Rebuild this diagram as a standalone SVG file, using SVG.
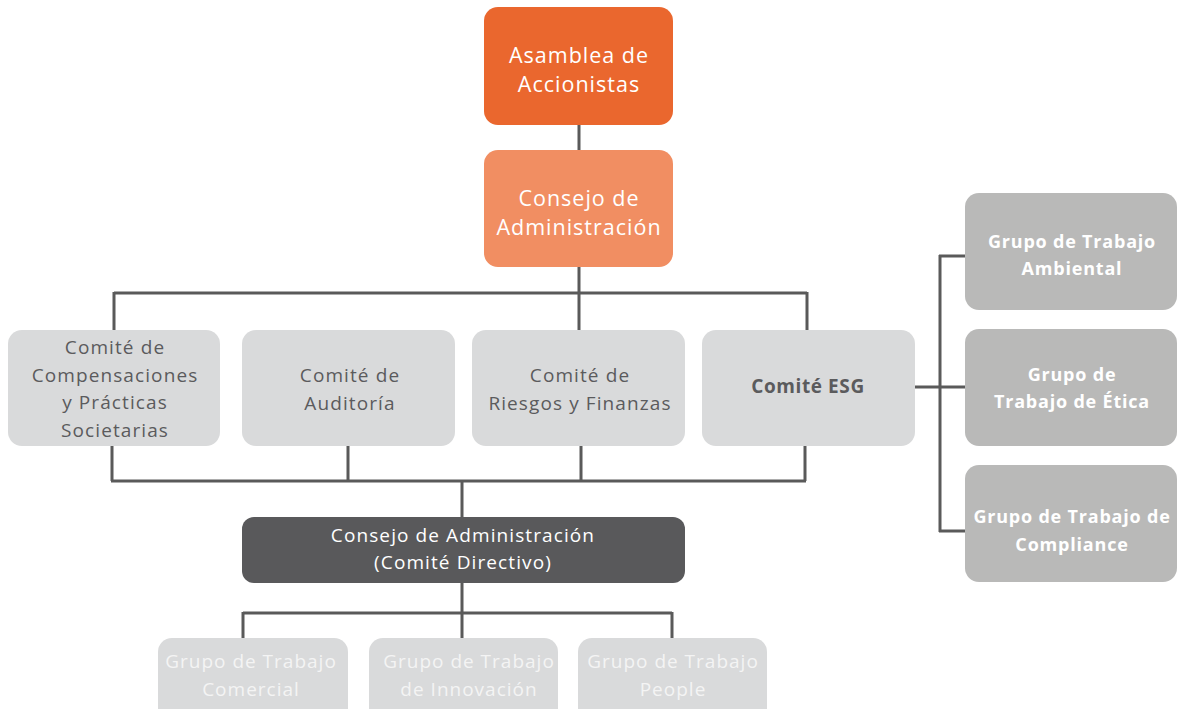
<svg xmlns="http://www.w3.org/2000/svg" width="1177" height="709" viewBox="0 0 1177 709">
<style>
.t{font-family:"Open Sans","Liberation Sans",sans-serif;text-anchor:middle;dominant-baseline:central}
.w{fill:#ffffff;font-size:21.5px;letter-spacing:1px}
.g{fill:#5b5b5d;font-size:19px;letter-spacing:1.1px}
.b{fill:#ffffff;font-size:18px;font-weight:bold;letter-spacing:0.8px}
.lw{fill:#f4f4f4;font-size:19px;letter-spacing:1px}
.c{fill:none;stroke:#5a5a5a;stroke-width:3}
.lg{fill:#d9dadb}
.mg{fill:#b9b9b8}
</style>
<rect width="1177" height="709" fill="#ffffff"/>
<g id="connectors">
<path class="c" d="M579 125V150M579 267V293M114 293H807M114 292V330M579 293V330M807 292V330"/>
<path class="c" d="M112 446V481M348 446V481M581 446V481M805 446V481M111 481H806M462 481V517"/>
<path class="c" d="M462 583V613M243 613H672M243 612V638M462 613V638M672 612V638"/>
<path class="c" d="M915 387H965M940 255V532M939 256H965M939 531H965"/>
</g>
<g id="asamblea"><rect x="484" y="7" width="189" height="118" rx="14" fill="#ea672e"/>
<text class="t w" x="579" y="54">Asamblea de</text><text class="t w" x="579" y="83">Accionistas</text></g>
<g id="consejo"><rect x="484" y="150" width="189" height="117" rx="14" fill="#f18e62"/>
<text class="t w" x="579" y="197">Consejo de</text><text class="t w" x="579" y="226">Administración</text></g>
<g id="comite-comp"><rect class="lg" x="8" y="330" width="212" height="116" rx="14"/>
<text class="t g" x="115" y="347">Comité de</text><text class="t g" x="115" y="375">Compensaciones</text><text class="t g" x="115" y="402">y Prácticas</text><text class="t g" x="115" y="430">Societarias</text></g>
<g id="comite-aud"><rect class="lg" x="242" y="330" width="213" height="116" rx="14"/>
<text class="t g" x="350" y="375">Comité de</text><text class="t g" x="350" y="403">Auditoría</text></g>
<g id="comite-rf"><rect class="lg" x="472" y="330" width="213" height="116" rx="14"/>
<text class="t g" x="580" y="375">Comité de</text><text class="t g" x="580" y="403">Riesgos y Finanzas</text></g>
<g id="comite-esg"><rect class="lg" x="702" y="330" width="213" height="116" rx="14"/>
<text class="t g" x="808" y="386" font-weight="bold" style="letter-spacing:0.6px">Comité ESG</text></g>
<g id="gt-ambiental"><rect class="mg" x="965" y="193" width="212" height="117" rx="14"/>
<text class="t b" x="1072" y="241">Grupo de Trabajo</text><text class="t b" x="1072" y="268">Ambiental</text></g>
<g id="gt-etica"><rect class="mg" x="965" y="329" width="212" height="117" rx="14"/>
<text class="t b" x="1072" y="374">Grupo de</text><text class="t b" x="1072" y="401">Trabajo de Ética</text></g>
<g id="gt-compliance"><rect class="mg" x="965" y="465" width="212" height="117" rx="14"/>
<text class="t b" x="1072" y="516">Grupo de Trabajo de</text><text class="t b" x="1072" y="544">Compliance</text></g>
<g id="comite-directivo"><rect x="242" y="517" width="443" height="66" rx="12" fill="#59595b"/>
<text class="t g" style="fill:#fff" x="463" y="535">Consejo de Administración</text><text class="t g" style="fill:#fff" x="463" y="562">(Comité Directivo)</text></g>
<g id="gt-comercial"><rect class="lg" x="158" y="638" width="190" height="90" rx="14"/>
<text class="t lw" x="251" y="661">Grupo de Trabajo</text><text class="t lw" x="251" y="689">Comercial</text></g>
<g id="gt-innovacion"><rect class="lg" x="369" y="638" width="189" height="90" rx="14"/>
<text class="t lw" x="469" y="661">Grupo de Trabajo</text><text class="t lw" x="469" y="689">de Innovación</text></g>
<g id="gt-people"><rect class="lg" x="578" y="638" width="189" height="90" rx="14"/>
<text class="t lw" x="673" y="661">Grupo de Trabajo</text><text class="t lw" x="673" y="689">People</text></g>
</svg>
